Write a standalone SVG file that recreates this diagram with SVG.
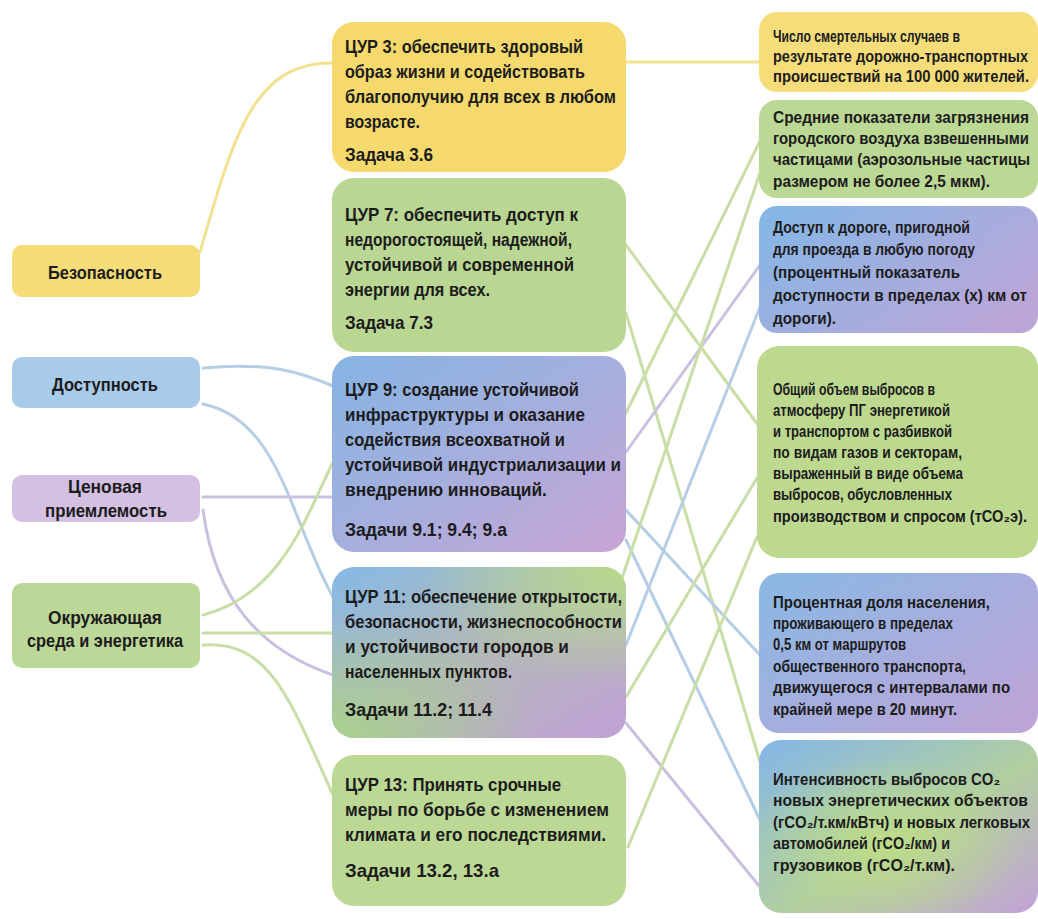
<svg xmlns="http://www.w3.org/2000/svg" width="1038" height="919" viewBox="0 0 1038 919">
<style>
.t{font-family:"Liberation Sans","DejaVu Sans",Arial,sans-serif;font-weight:bold;fill:#1c1c1c}
.m{font-size:18px}
.r{font-size:16.5px}
.l{font-size:18px}
.c{fill:none;stroke-width:3;stroke-linecap:round}
.cy{stroke:#f1e190}
.cg{stroke:#c9dea6}
.cb{stroke:#b6cde6}
.cp{stroke:#cbbfe0}
</style>
<defs>
<linearGradient id="g9" x1="0" y1="0" x2="1" y2="1">
<stop offset="0" stop-color="#86b4e4"/><stop offset="0.5" stop-color="#a5afdd"/><stop offset="1" stop-color="#c8a4d6"/>
</linearGradient>
<linearGradient id="g11" x1="0" y1="0" x2="1" y2="1">
<stop offset="0" stop-color="#86b9e6"/><stop offset="0.5" stop-color="#b3b8b8"/><stop offset="1" stop-color="#c1a0d8"/>
</linearGradient>
<radialGradient id="gTR" cx="1" cy="0" r="0.7">
<stop offset="0" stop-color="#b7da8a" stop-opacity="1"/><stop offset="1" stop-color="#b7da8a" stop-opacity="0"/>
</radialGradient>
<radialGradient id="gBL" cx="0" cy="1" r="0.7">
<stop offset="0" stop-color="#a8d08e" stop-opacity="1"/><stop offset="1" stop-color="#a8d08e" stop-opacity="0"/>
</radialGradient>
<linearGradient id="gR3" x1="0" y1="0.2" x2="1" y2="0.8">
<stop offset="0" stop-color="#86b6e5"/><stop offset="1" stop-color="#bea5d8"/>
</linearGradient>
<linearGradient id="gR5" x1="0" y1="0.1" x2="1" y2="0.9">
<stop offset="0" stop-color="#8cb8e4"/><stop offset="1" stop-color="#bea4d7"/>
</linearGradient>
<linearGradient id="gR6" x1="0" y1="0" x2="1" y2="1">
<stop offset="0" stop-color="#84b6e8"/><stop offset="0.55" stop-color="#b2cfa0"/><stop offset="1" stop-color="#c3a2d8"/>
</linearGradient>
<radialGradient id="gR6g" cx="0.45" cy="0.6" r="0.5">
<stop offset="0" stop-color="#bddc88" stop-opacity="1"/><stop offset="1" stop-color="#bddc88" stop-opacity="0"/>
</radialGradient>
</defs>
<rect width="1038" height="919" fill="#ffffff"/>

<g id="connectors">
<path class="c cy" d="M200,252 C235,130 255,63 332,63"/>
<path class="c cb" d="M203,368 C270,362 300,372 333,386"/>
<path class="c cb" d="M203,404 C280,420 290,520 333,597"/>
<path class="c cp" d="M203,497 L333,497"/>
<path class="c cp" d="M203,510 C215,600 260,650 333,675"/>
<path class="c cg" d="M203,615 C280,595 305,520 333,462"/>
<path class="c cg" d="M203,633 L333,633"/>
<path class="c cg" d="M203,645 C270,640 290,700 333,795"/>
<path class="c cy" d="M626,62 L760,62"/>
<path class="c cg" d="M626,245 L758,425"/>
<path class="c cg" d="M626,313 L760,762"/>
<path class="c cg" d="M626,413 L762,137"/>
<path class="c cp" d="M626,452 L760,265"/>
<path class="c cb" d="M626,510 L760,655"/>
<path class="c cb" d="M626,540 L760,820"/>
<path class="c cg" d="M622,578 L760,173"/>
<path class="c cb" d="M626,645 L760,307"/>
<path class="c cg" d="M626,697 L757,478"/>
<path class="c cp" d="M626,723 L760,887"/>
<path class="c cg" d="M628,847 L757,537"/>
</g>

<g id="n-bezopasnost">
<rect x="12" y="245" width="188" height="52" rx="10" fill="#f6dc78"/>
<text class="t l" x="48" y="279" textLength="114" lengthAdjust="spacingAndGlyphs">Безопасность</text>
</g>
<g id="n-dostupnost">
<rect x="12" y="357" width="188" height="51" rx="10" fill="#a9cbea"/>
<text class="t l" x="52" y="391" textLength="106" lengthAdjust="spacingAndGlyphs">Доступность</text>
</g>
<g id="n-tsenovaya">
<rect x="12" y="475" width="188" height="47" rx="10" fill="#d3c0e2"/>
<text class="t l" x="68" y="493" textLength="74" lengthAdjust="spacingAndGlyphs">Ценовая</text>
<text class="t l" x="45" y="517" textLength="122" lengthAdjust="spacingAndGlyphs">приемлемость</text>
</g>
<g id="n-okruzhayushchaya">
<rect x="12" y="583" width="188" height="85" rx="10" fill="#bcd898"/>
<text class="t l" x="48" y="624" textLength="114" lengthAdjust="spacingAndGlyphs">Окружающая</text>
<text class="t l" x="27" y="647" textLength="156" lengthAdjust="spacingAndGlyphs">среда и энергетика</text>
</g>

<g id="n-sdg3">
<rect x="332" y="22" width="294" height="150" rx="22" fill="#f6d96c"/>
<g transform="matrix(0.88 0 0 1 41.4 0)">
<text class="t m" x="345" y="53" textLength="270.5" lengthAdjust="spacingAndGlyphs">ЦУР 3: обеспечить здоровый</text>
<text class="t m" x="345" y="78" textLength="272.7" lengthAdjust="spacingAndGlyphs">образ жизни и содействовать</text>
<text class="t m" x="345" y="103" textLength="308" lengthAdjust="spacingAndGlyphs">благополучию для всех в любом</text>
<text class="t m" x="345" y="128" textLength="85.2" lengthAdjust="spacingAndGlyphs">возрасте.</text>
<text class="t m" x="345" y="161" textLength="100" lengthAdjust="spacingAndGlyphs">Задача 3.6</text>
</g>
</g>
<g id="n-sdg7">
<rect x="332" y="178" width="294" height="174" rx="22" fill="#b9d693"/>
<g transform="matrix(0.88 0 0 1 41.4 0)">
<text class="t m" x="345" y="221" textLength="264.8" lengthAdjust="spacingAndGlyphs">ЦУР 7: обеспечить доступ к</text>
<text class="t m" x="345" y="246" textLength="258" lengthAdjust="spacingAndGlyphs">недорогостоящей, надежной,</text>
<text class="t m" x="345" y="271" textLength="260.2" lengthAdjust="spacingAndGlyphs">устойчивой и современной</text>
<text class="t m" x="345" y="296" textLength="164.8" lengthAdjust="spacingAndGlyphs">энергии для всех.</text>
<text class="t m" x="345" y="329" textLength="100" lengthAdjust="spacingAndGlyphs">Задача 7.3</text>
</g>
</g>
<g id="n-sdg9">
<rect x="332" y="356" width="294" height="196" rx="22" fill="url(#g9)"/>
<g transform="matrix(0.88 0 0 1 41.4 0)">
<text class="t m" x="345" y="396" textLength="265.9" lengthAdjust="spacingAndGlyphs">ЦУР 9: создание устойчивой</text>
<text class="t m" x="345" y="421" textLength="272.7" lengthAdjust="spacingAndGlyphs">инфраструктуры и оказание</text>
<text class="t m" x="345" y="446" textLength="250" lengthAdjust="spacingAndGlyphs">содействия всеохватной и</text>
<text class="t m" x="345" y="471" textLength="313.6" lengthAdjust="spacingAndGlyphs">устойчивой индустриализации и</text>
<text class="t m" x="345" y="496" textLength="229.5" lengthAdjust="spacingAndGlyphs">внедрению инноваций.</text>
<text class="t m" x="345" y="536" textLength="184.1" lengthAdjust="spacingAndGlyphs">Задачи 9.1; 9.4; 9.а</text>
</g>
</g>
<g id="n-sdg11">
<rect x="332" y="567" width="294" height="171" rx="22" fill="url(#g11)"/>
<rect x="332" y="567" width="294" height="171" rx="22" fill="url(#gTR)"/>
<rect x="332" y="567" width="294" height="171" rx="22" fill="url(#gBL)"/>
<g transform="matrix(0.88 0 0 1 41.4 0)">
<text class="t m" x="345" y="603" textLength="314.8" lengthAdjust="spacingAndGlyphs">ЦУР 11: обеспечение открытости,</text>
<text class="t m" x="345" y="628" textLength="314.8" lengthAdjust="spacingAndGlyphs">безопасности, жизнеспособности</text>
<text class="t m" x="345" y="653" textLength="254.5" lengthAdjust="spacingAndGlyphs">и устойчивости городов и</text>
<text class="t m" x="345" y="678" textLength="189.8" lengthAdjust="spacingAndGlyphs">населенных пунктов.</text>
<text class="t m" x="345" y="716" textLength="167" lengthAdjust="spacingAndGlyphs">Задачи 11.2; 11.4</text>
</g>
</g>
<g id="n-sdg13">
<rect x="332" y="755" width="294" height="151" rx="22" fill="#bcd895"/>
<g transform="matrix(0.88 0 0 1 41.4 0)">
<text class="t m" x="345" y="791" textLength="245.5" lengthAdjust="spacingAndGlyphs">ЦУР 13: Принять срочные</text>
<text class="t m" x="345" y="816" textLength="300" lengthAdjust="spacingAndGlyphs">меры по борьбе с изменением</text>
<text class="t m" x="345" y="841" textLength="296.6" lengthAdjust="spacingAndGlyphs">климата и его последствиями.</text>
<text class="t m" x="345" y="877" textLength="175" lengthAdjust="spacingAndGlyphs">Задачи 13.2, 13.а</text>
</g>
</g>

<g id="n-r1">
<rect x="759" y="12" width="279" height="80" rx="18" fill="#f7dc7a"/>
<g transform="matrix(0.86 0 0 1 108.22 0)">
<text class="t r" x="773" y="42" textLength="217.4" lengthAdjust="spacingAndGlyphs">Число смертельных случаев в</text>
<text class="t r" x="773" y="62" textLength="296.5" lengthAdjust="spacingAndGlyphs">результате дорожно-транспортных</text>
<text class="t r" x="773" y="82" textLength="297.7" lengthAdjust="spacingAndGlyphs">происшествий на 100 000 жителей.</text>
</g>
</g>
<g id="n-r2">
<rect x="759" y="100" width="279" height="98" rx="18" fill="#bbd894"/>
<g transform="matrix(0.86 0 0 1 108.22 0)">
<text class="t r" x="773" y="123" textLength="297.7" lengthAdjust="spacingAndGlyphs">Средние показатели загрязнения</text>
<text class="t r" x="773" y="144" textLength="297.7" lengthAdjust="spacingAndGlyphs">городского воздуха взвешенными</text>
<text class="t r" x="773" y="165" textLength="298.8" lengthAdjust="spacingAndGlyphs">частицами (аэрозольные частицы</text>
<text class="t r" x="773" y="187" textLength="252.3" lengthAdjust="spacingAndGlyphs">размером не более 2,5 мкм).</text>
</g>
</g>
<g id="n-r3">
<rect x="759" y="206" width="279" height="127" rx="18" fill="url(#gR3)"/>
<g transform="matrix(0.86 0 0 1 108.22 0)">
<text class="t r" x="773" y="233" textLength="229.1" lengthAdjust="spacingAndGlyphs">Доступ к дороге, пригодной</text>
<text class="t r" x="773" y="255" textLength="234.9" lengthAdjust="spacingAndGlyphs">для проезда в любую погоду</text>
<text class="t r" x="773" y="278" textLength="217.4" lengthAdjust="spacingAndGlyphs">(процентный показатель</text>
<text class="t r" x="773" y="301" textLength="295.3" lengthAdjust="spacingAndGlyphs">доступности в пределах (х) км от</text>
<text class="t r" x="773" y="324" textLength="73.3" lengthAdjust="spacingAndGlyphs">дороги).</text>
</g>
</g>
<g id="n-r4">
<rect x="757" y="346" width="281" height="212" rx="22" fill="#bcd98f"/>
<g transform="matrix(0.86 0 0 1 108.22 0)">
<text class="t r" x="773" y="395" textLength="188.4" lengthAdjust="spacingAndGlyphs">Общий объем выбросов в</text>
<text class="t r" x="773" y="416" textLength="205.8" lengthAdjust="spacingAndGlyphs">атмосферу ПГ энергетикой</text>
<text class="t r" x="773" y="437" textLength="208.1" lengthAdjust="spacingAndGlyphs">и транспортом с разбивкой</text>
<text class="t r" x="773" y="458" textLength="219.8" lengthAdjust="spacingAndGlyphs">по видам газов и секторам,</text>
<text class="t r" x="773" y="479" textLength="220.9" lengthAdjust="spacingAndGlyphs">выраженный в виде объема</text>
<text class="t r" x="773" y="500" textLength="208.1" lengthAdjust="spacingAndGlyphs">выбросов, обусловленных</text>
<text class="t r" x="773" y="522" textLength="295.3" lengthAdjust="spacingAndGlyphs">производством и спросом (тСО₂э).</text>
</g>
</g>
<g id="n-r5">
<rect x="759" y="573" width="279" height="160" rx="20" fill="url(#gR5)"/>
<g transform="matrix(0.86 0 0 1 108.22 0)">
<text class="t r" x="773" y="608" textLength="252.3" lengthAdjust="spacingAndGlyphs">Процентная доля населения,</text>
<text class="t r" x="773" y="629" textLength="209.3" lengthAdjust="spacingAndGlyphs">проживающего в пределах</text>
<text class="t r" x="773" y="650" textLength="154.7" lengthAdjust="spacingAndGlyphs">0,5 км от маршрутов</text>
<text class="t r" x="773" y="672" textLength="224.4" lengthAdjust="spacingAndGlyphs">общественного транспорта,</text>
<text class="t r" x="773" y="693" textLength="275.6" lengthAdjust="spacingAndGlyphs">движущегося с интервалами по</text>
<text class="t r" x="773" y="715" textLength="214" lengthAdjust="spacingAndGlyphs">крайней мере в 20 минут.</text>
</g>
</g>
<g id="n-r6">
<rect x="759" y="740" width="279" height="173" rx="22" fill="url(#gR6)"/>
<rect x="759" y="740" width="279" height="173" rx="22" fill="url(#gR6g)"/>
<g transform="matrix(0.86 0 0 1 108.22 0)">
<text class="t r" x="773" y="785" textLength="264" lengthAdjust="spacingAndGlyphs">Интенсивность выбросов CO₂</text>
<text class="t r" x="773" y="806" textLength="296.5" lengthAdjust="spacingAndGlyphs">новых энергетических объектов</text>
<text class="t r" x="773" y="828" textLength="298.8" lengthAdjust="spacingAndGlyphs">(гCO₂/т.км/кВтч) и новых легковых</text>
<text class="t r" x="773" y="849" textLength="205.8" lengthAdjust="spacingAndGlyphs">автомобилей (гCO₂/км) и</text>
<text class="t r" x="773" y="871" textLength="211.6" lengthAdjust="spacingAndGlyphs">грузовиков (гCO₂/т.км).</text>
</g>
</g>
</svg>
